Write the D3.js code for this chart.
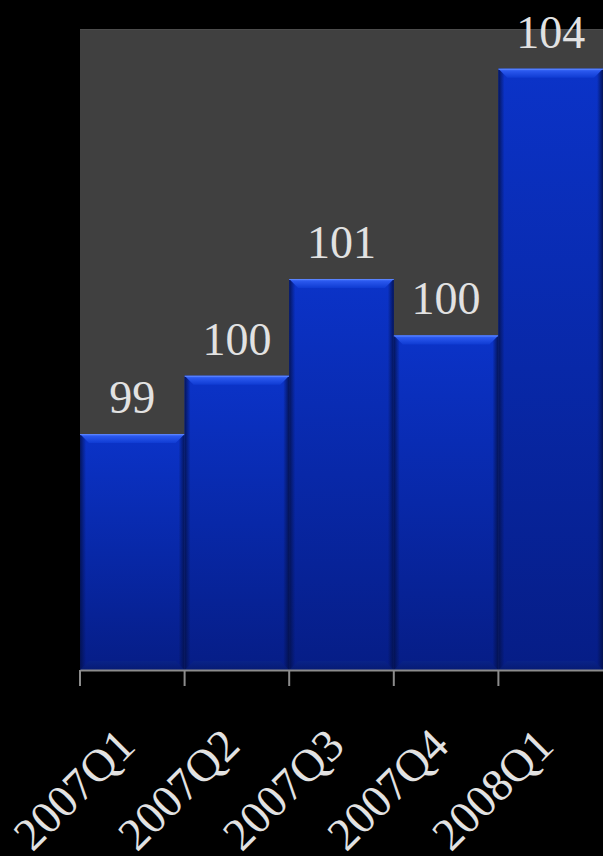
<!DOCTYPE html>
<html>
<head>
<meta charset="utf-8">
<script src="https://cdn.jsdelivr.net/npm/d3@7"></script>
<style>
  html, body { margin: 0; padding: 0; background: #000; }
  svg { display: block; }
</style>
</head>
<body>
<svg id="chart" width="603" height="856"></svg>
<script>
// Quarterly index values
const quarters = ["2007Q1", "2007Q2", "2007Q3", "2007Q4", "2008Q1"];
const values = [98.68, 99.59, 101.1, 100.22, 104.38];
const valueDomain = [95, 105];

const W = 603, H = 856;
const plot = { left: 80, right: 603, top: 29, bottom: 670 };

const svg = d3.select("#chart");
const defs = svg.append("defs");

function linGrad(id, stops, horizontal) {
  const g = defs.append("linearGradient").attr("id", id)
    .attr("x1", 0).attr("y1", 0)
    .attr("x2", horizontal ? 1 : 0).attr("y2", horizontal ? 0 : 1);
  stops.forEach(([o, c, a]) => g.append("stop").attr("offset", o)
    .attr("stop-color", c).attr("stop-opacity", a == null ? 1 : a));
}
linGrad("body", [[0, "#0b33c8"], [0.5, "#0828a8"], [1, "#061d86"]]);
linGrad("topBevel", [[0, "#4a78ff"], [0.25, "#2a58ee"], [1, "#0f3bd2"]]);
linGrad("bottomBevel", [[0, "#0a2488"], [1, "#061a70"]]);
linGrad("leftEdge", [[0, "#03104a", 0.85], [1, "#03104a", 0]], true);
linGrad("rightEdge", [[0, "#03104a", 0], [1, "#03104a", 0.9]], true);

const x = d3.scaleBand().domain(quarters).range([plot.left, plot.right]).padding(0);
const y = d3.scaleLinear().domain(valueDomain).range([plot.bottom, plot.top]);

// plot area
svg.append("rect")
  .attr("x", plot.left).attr("y", plot.top)
  .attr("width", plot.right - plot.left).attr("height", plot.bottom - plot.top)
  .attr("fill", "#404040");
svg.append("line")
  .attr("x1", plot.left).attr("x2", plot.right)
  .attr("y1", plot.top + 0.5).attr("y2", plot.top + 0.5)
  .attr("stroke", "#4c4c4c");

const data = quarters.map((q, i) => ({ q, v: values[i] }));
const bev = 9, side = 6;

const bars = svg.append("g").selectAll("g").data(data).join("g");
bars.each(function (d) {
  const g = d3.select(this);
  const x0 = x(d.q), x1 = x0 + x.bandwidth();
  const y0 = y(d.v), y1 = y(valueDomain[0]);
  g.append("rect").attr("x", x0).attr("y", y0)
    .attr("width", x1 - x0).attr("height", y1 - y0).attr("fill", "url(#body)");
  // side shading
  g.append("rect").attr("x", x0).attr("y", y0)
    .attr("width", side).attr("height", y1 - y0).attr("fill", "url(#leftEdge)");
  g.append("rect").attr("x", x1 - side).attr("y", y0)
    .attr("width", side).attr("height", y1 - y0).attr("fill", "url(#rightEdge)");
  // bottom bevel
  g.append("path")
    .attr("d", `M${x0},${y1} L${x1},${y1} L${x1 - bev},${y1 - bev} L${x0 + bev},${y1 - bev} Z`)
    .attr("fill", "url(#bottomBevel)").attr("opacity", 0.8);
  // top bevel
  g.append("path")
    .attr("d", `M${x0},${y0} L${x1},${y0} L${x1 - bev},${y0 + bev} L${x0 + bev},${y0 + bev} Z`)
    .attr("fill", "url(#topBevel)");
  g.append("line").attr("x1", x0).attr("x2", x1)
    .attr("y1", y0 + 0.5).attr("y2", y0 + 0.5)
    .attr("stroke", "#5a84ff").attr("stroke-width", 1);
});

// value labels
const fmt = d3.format(".0f");
svg.append("g").selectAll("text").data(data).join("text")
  .attr("x", d => x(d.q) + x.bandwidth() / 2)
  .attr("y", d => y(d.v) - 21)
  .attr("text-anchor", "middle")
  .attr("font-family", "'Liberation Serif', 'DejaVu Serif', serif")
  .attr("font-size", 46)
  .attr("fill", "#e2e2e2")
  .text(d => fmt(d.v));

// category axis, ticks between categories
const axis = svg.append("g")
  .attr("transform", `translate(0,${plot.bottom})`)
  .call(d3.axisBottom(x).tickSize(16).tickSizeOuter(0));
axis.select(".domain").attr("stroke", "#8c8c8c").attr("stroke-width", 2);
axis.selectAll(".tick").attr("transform", d => `translate(${x(d)},0)`);
axis.selectAll(".tick line").attr("stroke", "#8c8c8c").attr("stroke-width", 2);
axis.selectAll(".tick text")
  .attr("font-family", "'Liberation Serif', 'DejaVu Serif', serif")
  .attr("font-size", 46)
  .attr("fill", "#e2e2e2")
  .attr("text-anchor", "end")
  .attr("dy", 0)
  .attr("transform", `translate(${x.bandwidth() / 2 + 5},78) rotate(-45)`)
  .attr("y", 0).attr("x", 0);
</script>
</body>
</html>
